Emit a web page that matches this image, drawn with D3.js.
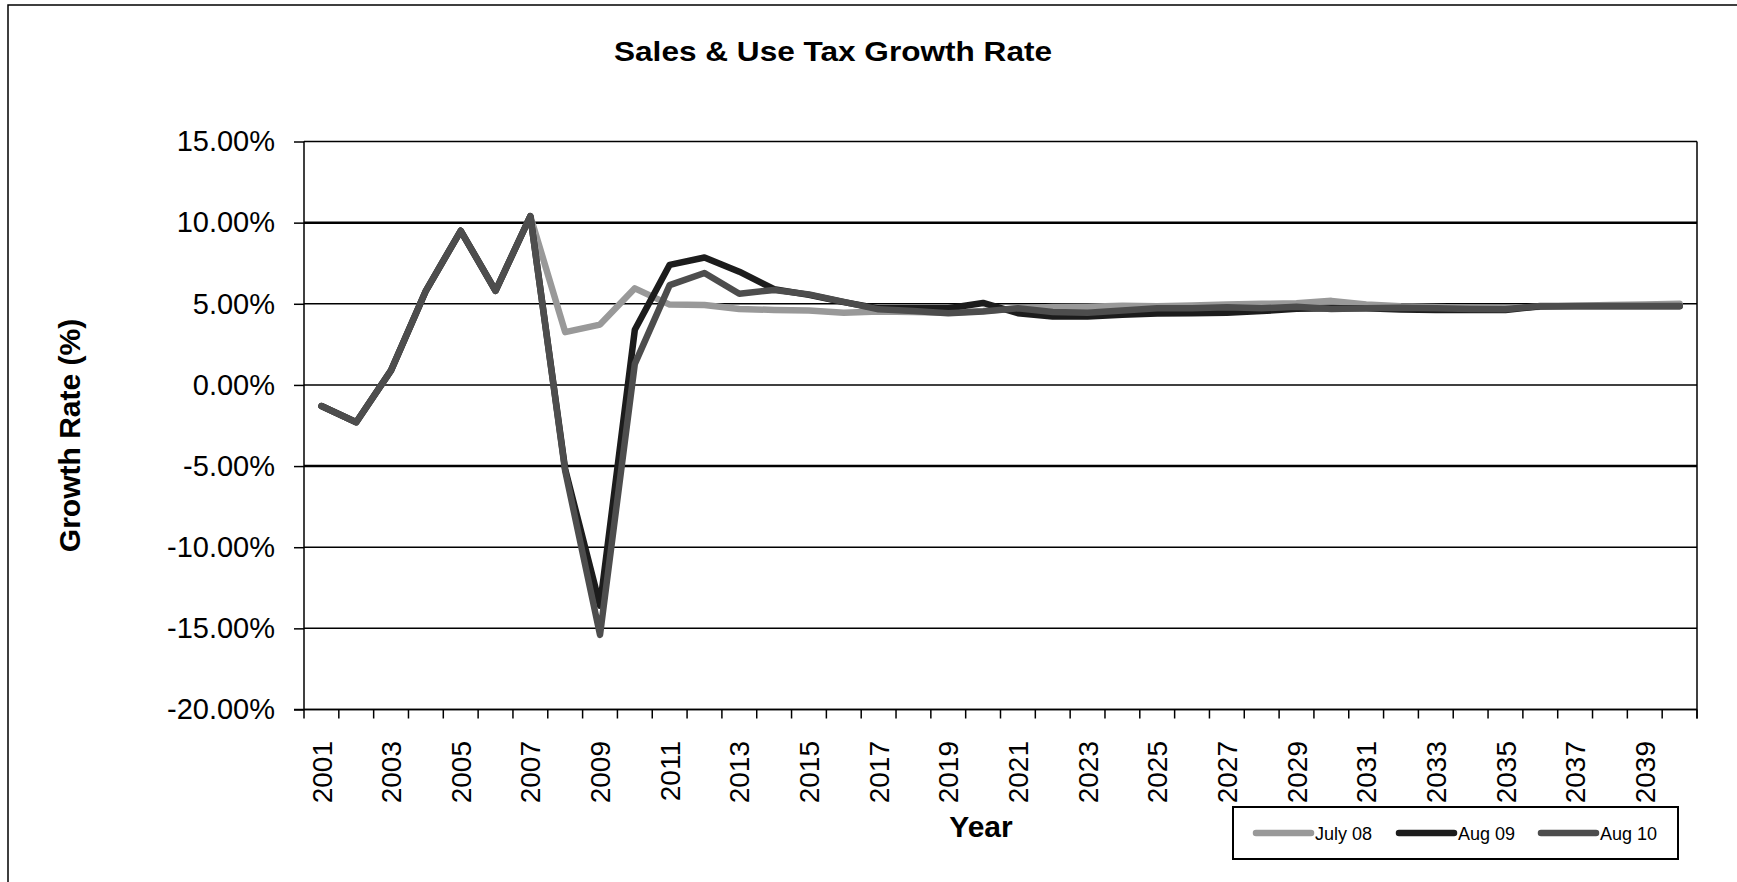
<!DOCTYPE html>
<html>
<head>
<meta charset="utf-8">
<script src="https://cdn.jsdelivr.net/npm/d3@7"></script>
<style>
  html, body { margin: 0; padding: 0; background: #fff; }
  svg { display: block; font-family: "Liberation Sans", Arial, sans-serif; }
</style>
</head>
<body>
<svg id="chart" width="1737" height="882"></svg>
<script>
// ---------- data ----------
const years = d3.range(2001, 2041);
const history = [-1.3, -2.3, 0.9, 5.8, 9.5, 5.8, 10.4]; // 2001-2007, shared by all series
const july08 = history.concat([3.25, 3.72, 5.95, 4.95, 4.92, 4.68, 4.62, 4.58, 4.45, 4.52,
  4.50, 4.45, 4.55, 4.72, 4.80, 4.82, 4.88, 4.85, 4.90, 4.95,
  5.00, 5.03, 5.18, 4.95, 4.85, 4.80, 4.75, 4.72, 4.82, 4.88,
  4.92, 4.95, 5.00]);
const aug09 = history.concat([-5.2, -13.6, 3.4, 7.4, 7.85, 6.98, 5.9, 5.55, 5.1, 4.72,
  4.72, 4.72, 5.05, 4.42, 4.22, 4.22, 4.32, 4.40, 4.42, 4.45,
  4.55, 4.70, 4.72, 4.72, 4.65, 4.62, 4.62, 4.62, 4.85, 4.85,
  4.85, 4.85, 4.85]);
const aug10 = history.concat([-5.3, -15.4, 1.3, 6.15, 6.9, 5.62, 5.85, 5.58, 5.12, 4.66,
  4.55, 4.42, 4.52, 4.72, 4.50, 4.45, 4.58, 4.72, 4.72, 4.78,
  4.72, 4.82, 4.68, 4.72, 4.76, 4.72, 4.68, 4.66, 4.87, 4.86,
  4.86, 4.86, 4.86]);
const seriesNames = ["July 08", "Aug 09", "Aug 10"];
const seriesColors = ["#999999", "#1c1c1c", "#4d4d4d"];
const yTicks = [-20, -15, -10, -5, 0, 5, 10, 15];
const xTickLabels = years.filter((y, i) => i % 2 === 0);
const titleText = "Sales & Use Tax Growth Rate";
const xTitle = "Year";
const yTitle = "Growth Rate (%)";

// ---------- layout ----------
const svg = d3.select("#chart");
const L = 304, R = 1697, T = 141.5, B = 709.5;

const x = d3.scaleBand().domain(years).range([L, R]).padding(0);
const y = d3.scaleLinear().domain([-20, 15]).range([B, T]);

// outer frame
svg.append("rect").attr("x", 8).attr("y", 5).attr("width", 1760).attr("height", 1000)
  .attr("fill", "none").attr("stroke", "#000").attr("stroke-width", 1.5);

// title
svg.append("text").attr("x", 833).attr("y", 61).attr("text-anchor", "middle")
  .attr("font-size", 27).attr("font-weight", "bold")
  .attr("textLength", 438).attr("lengthAdjust", "spacingAndGlyphs")
  .text(titleText);

// gridlines
svg.append("g").selectAll("line").data(yTicks).join("line")
  .attr("x1", L).attr("x2", R)
  .attr("y1", d => y(d)).attr("y2", d => y(d))
  .attr("stroke", "#000")
  .attr("stroke-width", d => (d === 10 || d === -5) ? 2.5 : 1.5);

// y axis
const yAxis = svg.append("g").attr("transform", `translate(${L},0)`)
  .call(d3.axisLeft(y).tickValues(yTicks).tickSize(10).tickPadding(19)
    .tickFormat(d => d.toFixed(2) + "%"));
yAxis.select(".domain").attr("stroke-width", 1.5).attr("d", `M0,${T}V${B}`);
yAxis.selectAll(".tick line").attr("stroke-width", 1.5);
yAxis.selectAll("text").attr("font-size", 29).attr("fill", "#000")
  .attr("font-family", "Liberation Sans, Arial, sans-serif");

// right border of plot
svg.append("line").attr("x1", R).attr("x2", R).attr("y1", T).attr("y2", B + 9)
  .attr("stroke", "#000").attr("stroke-width", 1.5);

// x axis
const xAxisG = svg.append("g");
xAxisG.append("line").attr("x1", L - 10).attr("x2", R).attr("y1", B).attr("y2", B)
  .attr("stroke", "#000").attr("stroke-width", 1.5);
const boundaries = years.map(d => x(d)).concat([R]);
xAxisG.selectAll("line.tk").data(boundaries).join("line").attr("class", "tk")
  .attr("x1", d => d).attr("x2", d => d).attr("y1", B).attr("y2", B + 9)
  .attr("stroke", "#000").attr("stroke-width", 1.5);
xAxisG.selectAll("text").data(xTickLabels).join("text")
  .attr("transform", d => `translate(${x(d) + x.bandwidth() / 2},741) rotate(-90)`)
  .attr("text-anchor", "end").attr("dy", "0.36em")
  .attr("font-size", 28).attr("fill", "#000")
  .text(d => d);

// axis titles
svg.append("text").attr("transform", "translate(80,435.5) rotate(-90)")
  .attr("text-anchor", "middle").attr("font-size", 30).attr("font-weight", "bold")
  .text(yTitle);
svg.append("text").attr("x", 981).attr("y", 837).attr("text-anchor", "middle")
  .attr("font-size", 30).attr("font-weight", "bold").text(xTitle);

// lines
const allSeries = [july08, aug09, aug10];
const line = d3.line().x((d, i) => x(years[i]) + x.bandwidth() / 2).y(d => y(d));
svg.append("g").selectAll("path").data(allSeries).join("path")
  .attr("d", d => line(d))
  .attr("fill", "none")
  .attr("stroke", (d, i) => seriesColors[i])
  .attr("stroke-width", 6.5)
  .attr("stroke-linejoin", "round")
  .attr("stroke-linecap", "round");

// legend
const lg = svg.append("g");
lg.append("rect").attr("x", 1233).attr("y", 807).attr("width", 445).attr("height", 52)
  .attr("fill", "#fff").attr("stroke", "#000").attr("stroke-width", 2);
const legendX = [1256, 1399, 1541];
seriesNames.forEach((name, i) => {
  lg.append("line").attr("x1", legendX[i]).attr("x2", legendX[i] + 55)
    .attr("y1", 833).attr("y2", 833)
    .attr("stroke", seriesColors[i]).attr("stroke-width", 6.5).attr("stroke-linecap", "round");
  lg.append("text").attr("x", legendX[i] + 59).attr("y", 839.5)
    .attr("font-size", 18).attr("fill", "#000").text(name);
});
</script>
</body>
</html>
